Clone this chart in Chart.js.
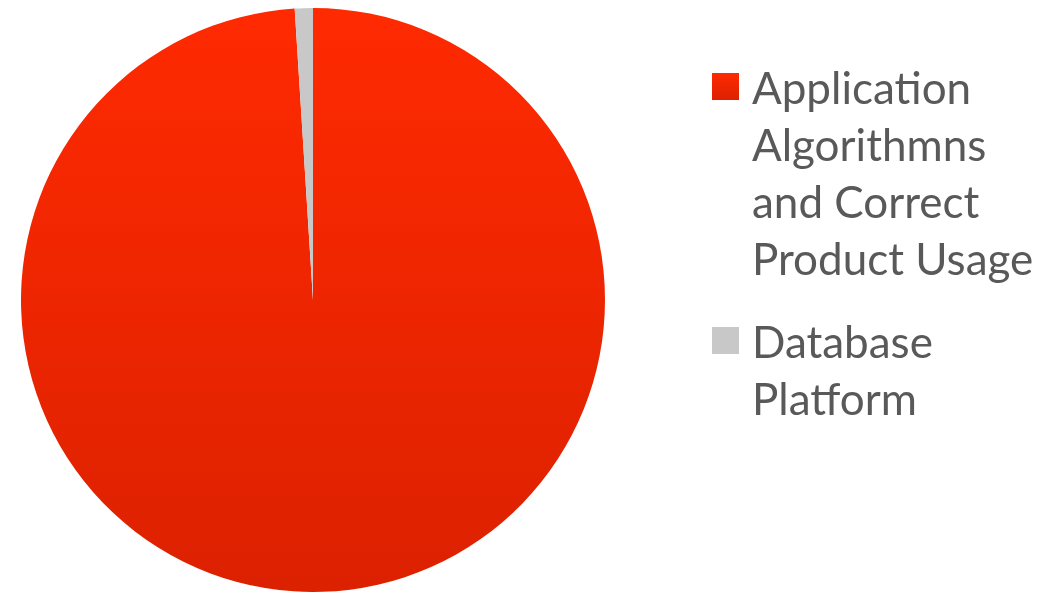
<!DOCTYPE html>
<html>
<head>
<meta charset="utf-8">
<script src="https://cdn.jsdelivr.net/npm/chart.js@4/dist/chart.umd.min.js"></script>
<style>
  html, body { margin: 0; padding: 0; background: #ffffff; }
  #wrap { width: 1060px; height: 592px; position: relative; }
</style>
</head>
<body>
<div id="wrap"><canvas id="c"></canvas></div>
<script>
// ---- data ----
const categories = [
  ["Application", "Algorithmns", "and Correct", "Product Usage"],
  ["Database", "Platform"]
];
const shareValues = [99, 1];

// ---- styles ----
const redTop = "#FF2A00";
const redBottom = "#DC2100";
const grayFill = "#C8C8C8";
const textColor = "#595959";
const legendFont = "44px Lato";

function redGradient(ctx, top, bottom) {
  const g = ctx.createLinearGradient(0, top, 0, bottom);
  g.addColorStop(0, redTop);
  g.addColorStop(1, redBottom);
  return g;
}

const sideLegend = {
  id: "sideLegend",
  afterDraw(chart) {
    const ctx = chart.ctx;
    const x0 = 712, box = 27, textX = 752, lineH = 57, gap = 26;
    let y = 73;
    ctx.save();
    ctx.font = legendFont;
    ctx.textBaseline = "alphabetic";
    ctx.textAlign = "left";
    chart.data.labels.forEach((lines, i) => {
      ctx.fillStyle = i === 0 ? redGradient(ctx, y, y + box) : grayFill;
      ctx.fillRect(x0, y, box, box);
      ctx.fillStyle = textColor;
      lines.forEach((ln, j) => {
        ctx.fillText(ln, textX, y + 31 + j * lineH);
      });
      y += lines.length * lineH + gap;
    });
    ctx.restore();
  }
};

function build() {
  new Chart(document.getElementById("c"), {
    type: "pie",
    data: {
      labels: categories,
      datasets: [{
        data: shareValues,
        backgroundColor: (c) => {
          if (c.dataIndex === 1) return grayFill;
          const area = c.chart.chartArea;
          if (!area) return redTop;
          return redGradient(c.chart.ctx, area.top, area.bottom);
        },
        borderWidth: 0,
        hoverOffset: 0
      }]
    },
    options: {
      responsive: true,
      maintainAspectRatio: false,
      animation: false,
      layout: { padding: { left: 21, top: 8, right: 455, bottom: 0 } },
      plugins: {
        legend: { display: false },
        tooltip: { enabled: false }
      }
    },
    plugins: [sideLegend]
  });
}

if (document.fonts && document.fonts.load) {
  document.fonts.load(legendFont).then(build, build);
} else {
  build();
}
</script>
</body>
</html>
